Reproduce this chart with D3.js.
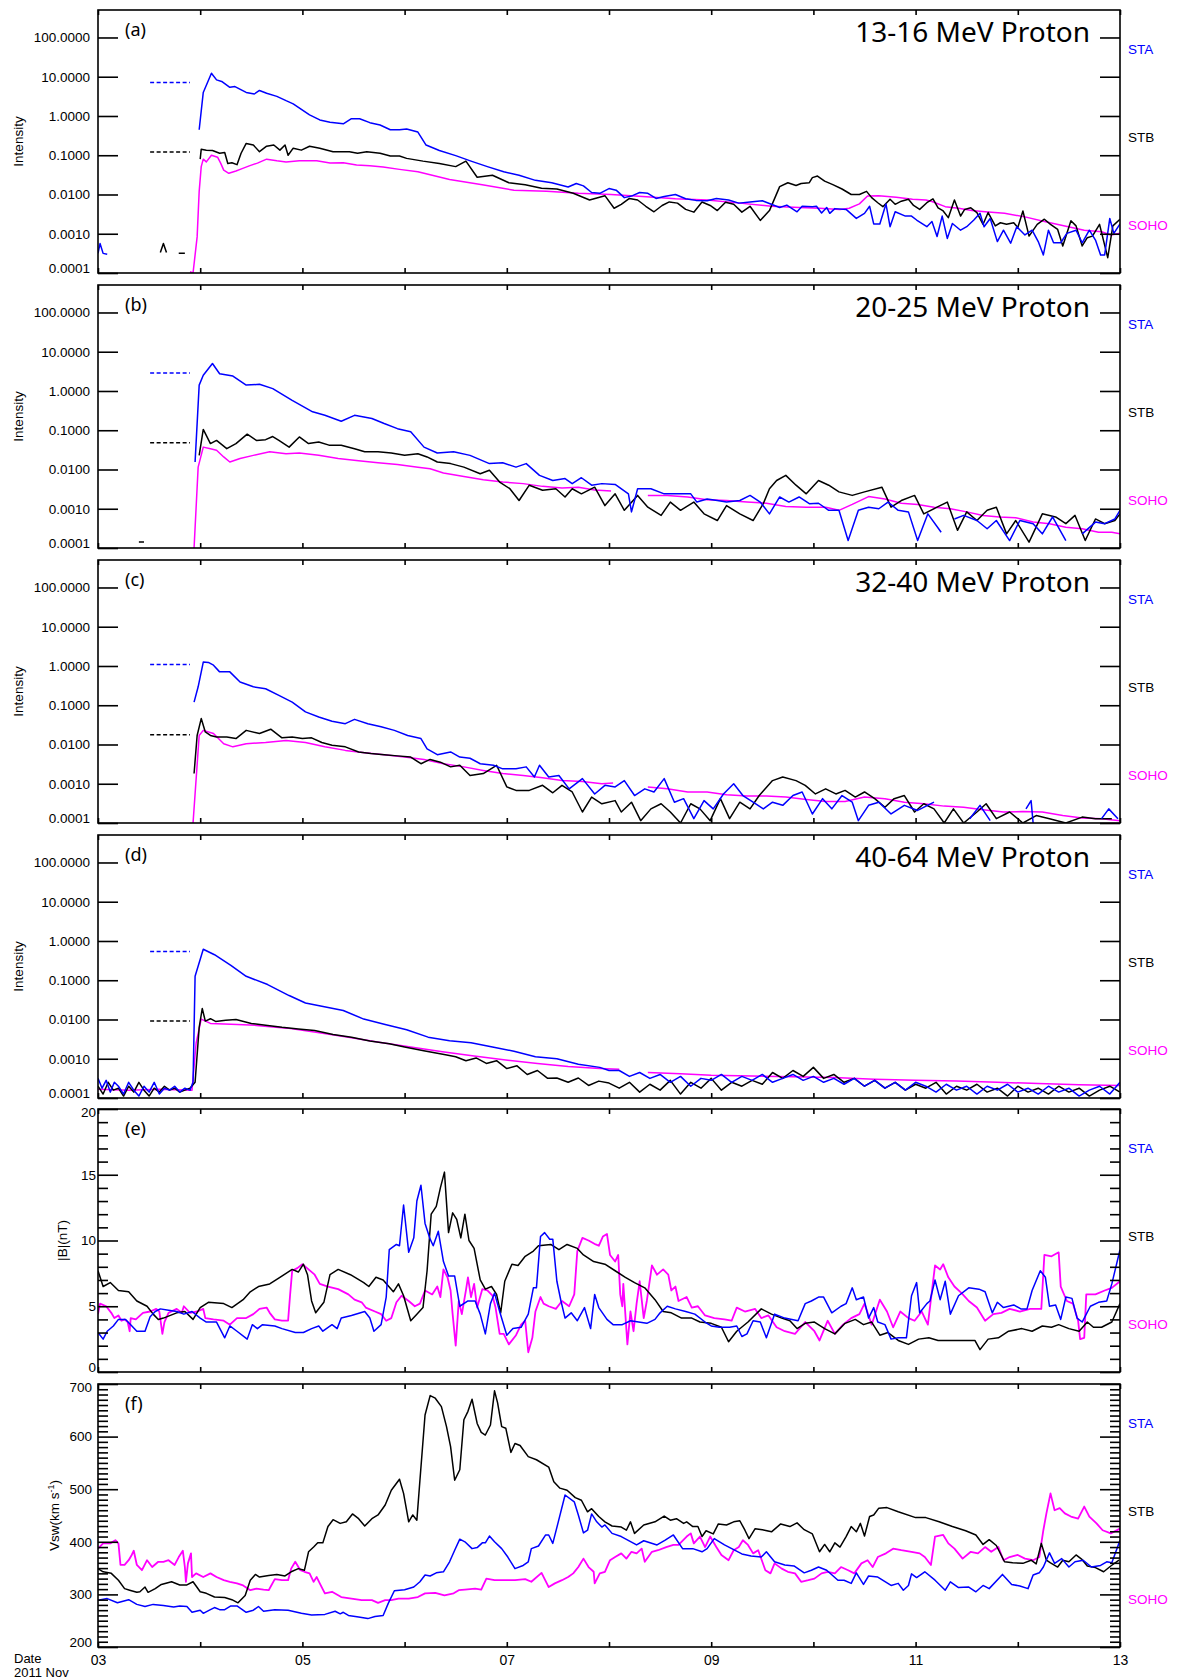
<!DOCTYPE html>
<html>
<head>
<meta charset="utf-8">
<script src="https://cdn.jsdelivr.net/npm/d3@7"></script>
<style>body{margin:0;background:#fff}</style>
</head>
<body>
<div id="chart"></div>
<script>
// ---- labels ----
const energyLabels = ["13-16 MeV Proton", "20-25 MeV Proton", "32-40 MeV Proton", "40-64 MeV Proton"];
const panelLetters = ["(a)", "(b)", "(c)", "(d)", "(e)", "(f)"];
const craft = ["STA", "STB", "SOHO"];
const logTicks = [100, 10, 1, 0.1, 0.01, 0.001, 0.0001];
const logTickLabels = ["100.0000", "10.0000", "1.0000", "0.1000", "0.0100", "0.0010", "0.0001"];
const bTicks = [0, 5, 10, 15, 20];
const vTicks = [200, 300, 400, 500, 600, 700];
const dayTicks = [3, 4, 5, 6, 7, 8, 9, 10, 11, 12, 13];
const dayLabels = { 3: "03", 5: "05", 7: "07", 9: "09", 11: "11", 13: "13" };

// pre-event background levels (dashed), log10 intensity, per energy channel
const bgDays = [3.51, 3.90];
const bgSta = [0.85, 0.46, 0.04, -0.27];
const bgStb = [-0.92, -1.32, -1.75, -2.04];

// ---- proton intensities: [day of Nov 2011, log10 intensity] ----
const staA = [[3.0,-3.5],[3.02,-3.25],[3.05,-3.5],[3.09,-3.52],[3.1,null],
 [3.99,-0.35],[4.03,0.6],[4.11,1.09],[4.16,0.92],[4.21,0.88],[4.29,0.73],[4.34,0.75],[4.45,0.6],[4.53,0.56],[4.58,0.65],[4.65,0.58],[4.75,0.5],[4.84,0.39],[4.91,0.31],[4.99,0.17],[5.07,0.03],[5.17,-0.1],[5.27,-0.16],[5.4,-0.2],[5.48,-0.07],[5.56,-0.07],[5.66,-0.17],[5.76,-0.23],[5.86,-0.35],[5.95,-0.35],[6.02,-0.33],[6.13,-0.41],[6.21,-0.74],[6.34,-0.88],[6.5,-1.01],[6.65,-1.15],[6.81,-1.29],[6.97,-1.42],[7.12,-1.51],[7.28,-1.64],[7.44,-1.7],[7.6,-1.81],[7.68,-1.72],[7.75,-1.78],[7.83,-1.95],[7.91,-1.97],[8.0,-1.85],[8.07,-1.89],[8.15,-2.08],[8.23,-2.03],[8.3,-1.95],[8.38,-1.97],[8.46,-2.1],[8.54,-2.05],[8.65,-2.0],[8.75,-2.11],[8.85,-2.15],[8.96,-2.16],[9.05,-2.1],[9.17,-2.14],[9.27,-2.22],[9.38,-2.19],[9.5,-2.16],[9.67,-2.33],[9.74,-2.27],[9.84,-2.44],[9.89,-2.3],[9.99,-2.31],[10.03,-2.3],[10.08,-2.47],[10.13,-2.33],[10.16,-2.48],[10.21,-2.36],[10.32,-2.38],[10.42,-2.61],[10.5,-2.48],[10.55,-2.3],[10.59,-2.75],[10.65,-2.75],[10.71,-2.24],[10.75,-2.82],[10.8,-2.44],[10.9,-2.55],[10.96,-2.55],[11.01,-2.65],[11.11,-2.82],[11.16,-2.69],[11.21,-3.07],[11.26,-2.55],[11.31,-3.12],[11.36,-2.74],[11.44,-2.91],[11.5,-2.82],[11.57,-2.65],[11.63,-2.48],[11.67,-2.82],[11.73,-2.61],[11.8,-3.2],[11.86,-2.91],[11.93,-3.24],[11.99,-2.82],[12.07,-3.03],[12.14,-2.91],[12.2,-3.2],[12.25,-3.54],[12.3,-2.91],[12.35,-3.23],[12.42,-3.23],[12.48,-2.99],[12.57,-2.91],[12.63,-3.23],[12.7,-2.91],[12.76,-3.16],[12.81,-3.54],[12.85,-3.54],[12.9,-2.61],[12.94,-2.99],[13.0,-2.75]];
const stbA = [[3.61,-3.48],[3.64,-3.25],[3.67,-3.48],[3.7,null],[3.79,-3.5],[3.85,-3.5],[3.9,null],
 [4.0,-1.1],[4.01,-0.85],[4.06,-0.87],[4.12,-0.88],[4.19,-0.95],[4.24,-0.93],[4.27,-1.21],[4.31,-1.19],[4.36,-1.24],[4.4,-0.95],[4.45,-0.7],[4.52,-0.74],[4.58,-0.91],[4.65,-0.77],[4.72,-0.74],[4.78,-0.87],[4.83,-0.74],[4.86,-1.0],[4.91,-0.82],[4.99,-0.87],[5.07,-0.77],[5.17,-0.82],[5.3,-0.91],[5.46,-0.91],[5.54,-0.95],[5.63,-0.91],[5.76,-0.95],[5.86,-1.02],[5.95,-1.02],[6.02,-1.08],[6.18,-1.15],[6.34,-1.21],[6.5,-1.29],[6.6,-1.15],[6.71,-1.56],[6.86,-1.51],[7.02,-1.7],[7.18,-1.75],[7.34,-1.84],[7.49,-1.86],[7.65,-1.97],[7.81,-2.14],[7.96,-2.03],[8.05,-2.35],[8.12,-2.25],[8.2,-2.1],[8.28,-2.14],[8.36,-2.3],[8.44,-2.44],[8.52,-2.28],[8.59,-2.19],[8.67,-2.22],[8.75,-2.38],[8.83,-2.45],[8.91,-2.19],[8.99,-2.28],[9.06,-2.41],[9.14,-2.2],[9.22,-2.25],[9.3,-2.45],[9.38,-2.3],[9.48,-2.66],[9.57,-2.41],[9.67,-1.8],[9.75,-1.7],[9.83,-1.77],[9.88,-1.72],[9.96,-1.7],[9.99,-1.57],[10.04,-1.53],[10.11,-1.66],[10.19,-1.75],[10.28,-1.86],[10.37,-2.0],[10.45,-2.0],[10.52,-1.92],[10.57,-2.08],[10.63,-2.21],[10.68,-2.31],[10.75,-2.12],[10.8,-2.25],[10.86,-2.17],[10.93,-2.12],[10.98,-2.28],[11.04,-2.38],[11.11,-2.21],[11.17,-2.11],[11.22,-2.34],[11.27,-2.42],[11.32,-2.59],[11.38,-2.14],[11.44,-2.55],[11.48,-2.38],[11.54,-2.34],[11.6,-2.46],[11.66,-2.76],[11.71,-2.46],[11.78,-2.8],[11.83,-2.72],[11.89,-2.76],[11.96,-2.72],[12.0,-2.84],[12.05,-2.42],[12.11,-3.06],[12.19,-2.76],[12.26,-2.63],[12.32,-2.76],[12.39,-2.89],[12.44,-3.31],[12.52,-2.67],[12.57,-2.8],[12.63,-3.31],[12.68,-3.1],[12.73,-3.06],[12.8,-2.76],[12.88,-3.61],[12.93,-2.8],[13.0,-2.63]];
const sohoA = [[3.9,-3.97],[3.93,-4.0],[3.97,-3.08],[3.99,-1.92],[4.01,-1.29],[4.03,-1.1],[4.06,-1.17],[4.11,-1.0],[4.17,-1.05],[4.2,-1.2],[4.23,-1.38],[4.28,-1.46],[4.35,-1.4],[4.41,-1.34],[4.48,-1.27],[4.56,-1.2],[4.65,-1.1],[4.75,-1.14],[4.84,-1.17],[4.97,-1.14],[5.14,-1.14],[5.27,-1.2],[5.4,-1.19],[5.53,-1.25],[5.66,-1.27],[5.79,-1.3],[5.95,-1.36],[6.13,-1.42],[6.44,-1.62],[6.76,-1.75],[7.07,-1.89],[7.39,-1.92],[7.7,-1.97],[8.02,-2.0],[8.33,-2.05],[8.65,-2.11],[8.96,-2.14],[9.28,-2.22],[9.59,-2.3],[9.86,-2.33],[10.06,-2.35],[10.26,-2.38],[10.35,-2.35],[10.45,-2.24],[10.53,-2.04],[10.64,-2.03],[10.81,-2.07],[10.97,-2.12],[11.1,-2.14],[11.16,-2.18],[11.29,-2.31],[11.42,-2.35],[11.55,-2.41],[11.68,-2.44],[11.87,-2.48],[12.07,-2.57],[12.26,-2.69],[12.46,-2.8],[12.65,-2.91],[12.82,-2.95],[12.91,-3.03],[13.0,-2.99]];

const staB = [[3.95,-1.81],[3.99,0.15],[4.03,0.4],[4.12,0.7],[4.19,0.44],[4.32,0.38],[4.45,0.15],[4.58,0.17],[4.71,0.06],[4.9,-0.24],[5.1,-0.53],[5.22,-0.62],[5.38,-0.77],[5.51,-0.62],[5.68,-0.7],[5.8,-0.83],[5.93,-0.96],[6.06,-1.04],[6.19,-1.43],[6.32,-1.58],[6.48,-1.55],[6.64,-1.64],[6.83,-1.85],[6.96,-1.83],[7.09,-1.94],[7.19,-1.85],[7.32,-2.15],[7.45,-2.28],[7.57,-2.23],[7.64,-2.36],[7.73,-2.21],[7.83,-2.4],[7.93,-2.36],[8.06,-2.38],[8.19,-2.62],[8.22,-3.08],[8.28,-2.49],[8.41,-2.49],[8.54,-2.62],[8.67,-2.62],[8.8,-2.62],[8.86,-2.83],[8.96,-2.75],[9.06,-2.79],[9.15,-2.83],[9.28,-2.79],[9.38,-2.66],[9.48,-2.83],[9.57,-3.13],[9.67,-2.7],[9.76,-2.83],[9.86,-2.7],[9.96,-2.87],[10.05,-2.86],[10.15,-3.04],[10.25,-3.04],[10.34,-3.81],[10.44,-3.04],[10.54,-2.96],[10.64,-3.0],[10.73,-2.83],[10.83,-3.04],[10.93,-3.08],[11.02,-3.81],[11.12,-3.13],[11.25,-3.6],[11.3,null],[11.38,-3.26],[11.47,-3.17],[11.6,-3.3],[11.7,-3.51],[11.79,-3.3],[11.92,-3.81],[12.02,-3.3],[12.15,-3.38],[12.24,-3.64],[12.34,-3.21],[12.47,-3.81],[12.55,null],[12.63,-3.64],[12.76,-3.34],[12.85,-3.38],[12.95,-3.26],[13.0,-3.04]];
const stbB = [[3.4,-3.85],[3.45,-3.85],[3.5,null],[3.99,-1.64],[4.03,-0.98],[4.1,-1.34],[4.16,-1.26],[4.26,-1.47],[4.35,-1.34],[4.46,-1.1],[4.55,-1.26],[4.64,-1.24],[4.71,-1.16],[4.77,-1.26],[4.87,-1.43],[4.97,-1.17],[5.06,-1.34],[5.16,-1.3],[5.26,-1.38],[5.38,-1.38],[5.51,-1.47],[5.61,-1.55],[5.74,-1.55],[5.87,-1.58],[6.0,-1.64],[6.13,-1.6],[6.22,-1.68],[6.32,-1.81],[6.45,-1.85],[6.58,-1.94],[6.74,-2.11],[6.83,-2.02],[6.93,-2.32],[7.03,-2.49],[7.12,-2.79],[7.22,-2.4],[7.35,-2.53],[7.48,-2.49],[7.57,-2.7],[7.64,-2.49],[7.73,-2.62],[7.86,-2.45],[7.96,-2.92],[8.06,-2.62],[8.15,-3.04],[8.28,-2.66],[8.38,-2.96],[8.51,-3.17],[8.6,-2.83],[8.7,-3.04],[8.83,-2.83],[8.93,-3.13],[9.06,-3.3],[9.15,-2.92],[9.28,-3.13],[9.41,-3.3],[9.51,-2.87],[9.57,-2.49],[9.64,-2.28],[9.73,-2.15],[9.83,-2.4],[9.93,-2.62],[10.05,-2.28],[10.15,-2.4],[10.25,-2.57],[10.38,-2.66],[10.5,-2.57],[10.67,-2.45],[10.76,-2.96],[10.86,-2.79],[10.99,-2.66],[11.08,-3.13],[11.21,-2.96],[11.31,-2.83],[11.41,-3.55],[11.5,-3.08],[11.6,-3.3],[11.7,-3.04],[11.79,-2.96],[11.89,-3.64],[11.98,-3.3],[12.11,-3.85],[12.24,-3.13],[12.37,-3.21],[12.47,-3.38],[12.56,-3.17],[12.66,-3.81],[12.76,-3.26],[12.85,-3.38],[12.95,-3.3],[13.0,-3.13]];
const sohoB = [[3.94,-4.0],[3.98,-1.94],[4.03,-1.43],[4.1,-1.47],[4.16,-1.51],[4.23,-1.68],[4.29,-1.81],[4.39,-1.72],[4.52,-1.64],[4.68,-1.55],[4.84,-1.6],[4.97,-1.58],[5.16,-1.64],[5.35,-1.72],[5.55,-1.78],[5.74,-1.83],[5.93,-1.87],[6.13,-1.94],[6.25,-1.98],[6.38,-2.09],[6.58,-2.18],[6.77,-2.26],[6.96,-2.32],[7.16,-2.36],[7.35,-2.43],[7.54,-2.47],[7.7,-2.45],[7.86,-2.52],[8.02,-2.55],[8.2,null],[8.38,-2.66],[8.57,-2.66],[8.77,-2.7],[8.96,-2.77],[9.15,-2.79],[9.35,-2.83],[9.54,-2.86],[9.73,-2.94],[9.93,-2.96],[10.12,-2.96],[10.25,-3.04],[10.38,-2.89],[10.54,-2.69],[10.7,-2.75],[10.86,-2.86],[11.02,-2.89],[11.18,-2.96],[11.34,-3.0],[11.5,-3.08],[11.66,-3.17],[11.82,-3.21],[11.98,-3.23],[12.15,-3.34],[12.31,-3.38],[12.47,-3.47],[12.63,-3.51],[12.79,-3.6],[12.92,-3.6],[13.0,-3.64]];

const staC = [[3.94,-0.92],[3.98,-0.53],[4.03,0.1],[4.08,0.09],[4.13,0.02],[4.19,-0.15],[4.29,-0.15],[4.39,-0.41],[4.52,-0.53],[4.64,-0.58],[4.77,-0.75],[4.9,-0.92],[5.03,-1.17],[5.16,-1.3],[5.29,-1.41],[5.42,-1.47],[5.51,-1.36],[5.64,-1.47],[5.77,-1.55],[5.9,-1.64],[6.03,-1.77],[6.16,-1.85],[6.22,-2.11],[6.32,-2.26],[6.45,-2.19],[6.54,-2.32],[6.64,-2.35],[6.74,-2.49],[6.87,-2.53],[6.96,-2.62],[7.09,-2.62],[7.19,-2.57],[7.27,-2.83],[7.32,-2.53],[7.41,-2.83],[7.51,-2.79],[7.61,-3.13],[7.74,-2.87],[7.86,-3.26],[7.96,-3.04],[8.06,-3.08],[8.15,-2.92],[8.25,-3.3],[8.35,-3.13],[8.44,-3.21],[8.54,-2.87],[8.64,-3.47],[8.73,-3.38],[8.83,-3.89],[8.93,-3.43],[9.02,-3.64],[9.12,-3.26],[9.22,-3.0],[9.31,-3.3],[9.41,-3.47],[9.51,-3.64],[9.6,-3.47],[9.7,-3.55],[9.8,-3.3],[9.89,-3.21],[9.99,-3.77],[10.09,-3.38],[10.18,-3.64],[10.28,-3.3],[10.38,-3.47],[10.44,-3.94],[10.54,-3.55],[10.64,-3.47],[10.76,-3.77],[10.89,-3.55],[11.02,-3.68],[11.18,-3.47],[11.25,null],[11.53,-3.89],[11.63,-3.55],[11.73,-3.94],[11.8,null],[12.08,-3.64],[12.13,-3.43],[12.15,-4.0],[12.2,null],[12.82,-3.89],[12.89,-3.64],[12.98,-3.89]];
const stbC = [[3.94,-2.74],[3.97,-1.77],[4.01,-1.34],[4.05,-1.68],[4.1,-1.77],[4.16,-1.81],[4.26,-1.81],[4.35,-1.85],[4.45,-1.64],[4.58,-1.72],[4.69,-1.61],[4.8,-1.83],[4.9,-1.81],[5.0,-1.85],[5.09,-1.83],[5.19,-1.95],[5.29,-2.02],[5.42,-2.06],[5.55,-2.19],[5.67,-2.23],[5.8,-2.26],[5.93,-2.29],[6.06,-2.32],[6.16,-2.49],[6.25,-2.38],[6.35,-2.45],[6.45,-2.57],[6.54,-2.53],[6.64,-2.79],[6.77,-2.74],[6.9,-2.53],[7.0,-3.08],[7.09,-3.17],[7.22,-3.17],[7.35,-3.04],[7.45,-3.23],[7.54,-3.04],[7.64,-3.21],[7.74,-3.72],[7.83,-3.34],[7.93,-3.51],[8.06,-3.43],[8.12,-3.72],[8.22,-3.47],[8.31,-3.94],[8.41,-3.64],[8.51,-3.51],[8.6,-3.72],[8.7,-4.0],[8.8,-3.51],[8.89,-3.64],[8.99,-3.94],[9.09,-3.38],[9.18,-3.89],[9.28,-3.47],[9.38,-3.64],[9.47,-3.3],[9.6,-2.92],[9.7,-2.83],[9.83,-2.92],[9.92,-3.04],[10.02,-3.26],[10.12,-3.13],[10.22,-3.26],[10.31,-3.17],[10.41,-3.34],[10.5,-3.21],[10.6,-3.38],[10.7,-3.6],[10.79,-3.38],[10.89,-3.3],[10.99,-3.72],[11.08,-3.51],[11.18,-3.64],[11.28,-4.0],[11.37,-3.64],[11.47,-4.0],[11.6,-3.72],[11.69,-3.51],[11.79,-3.89],[11.92,-3.72],[12.05,-4.0],[12.18,-3.81],[12.31,-3.89],[12.47,-4.0],[12.63,-3.85],[12.76,-3.89],[12.92,-3.89]];
const sohoC = [[3.93,-4.0],[3.99,-1.77],[4.03,-1.64],[4.13,-1.72],[4.23,-1.98],[4.32,-2.06],[4.45,-1.98],[4.64,-1.95],[4.84,-1.9],[5.03,-1.95],[5.22,-2.06],[5.42,-2.15],[5.61,-2.21],[5.8,-2.26],[6.0,-2.32],[6.19,-2.38],[6.38,-2.49],[6.58,-2.57],[6.77,-2.66],[6.96,-2.74],[7.16,-2.79],[7.35,-2.85],[7.54,-2.92],[7.74,-2.94],[7.93,-3.0],[8.04,-2.98],[8.2,null],[8.38,-3.08],[8.57,-3.13],[8.77,-3.21],[8.96,-3.21],[9.15,-3.28],[9.35,-3.31],[9.54,-3.31],[9.73,-3.34],[9.93,-3.4],[10.12,-3.45],[10.31,-3.45],[10.5,-3.34],[10.7,-3.38],[10.89,-3.47],[11.08,-3.51],[11.28,-3.57],[11.47,-3.6],[11.66,-3.66],[11.86,-3.72],[12.05,-3.71],[12.24,-3.72],[12.44,-3.81],[12.63,-3.87],[12.82,-3.89],[13.0,-3.94]];

const staD = [[3.0,-3.5],[3.04,-3.75],[3.08,-3.55],[3.12,-3.85],[3.16,-3.6],[3.2,-3.7],[3.25,-3.9],[3.3,-3.6],[3.35,-3.8],[3.4,-3.95],[3.45,-3.7],[3.5,-3.85],[3.55,-3.6],[3.6,-3.9],[3.65,-3.75],[3.7,-3.8],[3.75,-3.7],[3.8,-3.85],[3.85,-3.75],[3.9,-3.8],[3.93,-3.6],[3.95,-0.9],[4.03,-0.21],[4.14,-0.35],[4.3,-0.62],[4.45,-0.9],[4.66,-1.11],[4.87,-1.39],[5.03,-1.58],[5.19,-1.66],[5.4,-1.77],[5.6,-1.99],[5.81,-2.13],[6.02,-2.26],[6.23,-2.45],[6.44,-2.54],[6.65,-2.59],[6.86,-2.7],[7.07,-2.81],[7.28,-2.95],[7.49,-3.0],[7.7,-3.14],[7.91,-3.22],[8.0,-3.3],[8.1,-3.3],[8.2,-3.45],[8.3,-3.35],[8.4,-3.5],[8.5,-3.4],[8.6,-3.6],[8.7,-3.45],[8.8,-3.7],[8.9,-3.5],[9.0,-3.55],[9.1,-3.4],[9.2,-3.6],[9.3,-3.45],[9.4,-3.55],[9.5,-3.4],[9.6,-3.6],[9.7,-3.5],[9.8,-3.4],[9.9,-3.55],[10.0,-3.45],[10.1,-3.6],[10.2,-3.5],[10.3,-3.65],[10.4,-3.5],[10.5,-3.7],[10.6,-3.55],[10.7,-3.75],[10.8,-3.6],[10.9,-3.8],[11.0,-3.6],[11.1,-3.7],[11.2,-3.85],[11.3,-3.65],[11.4,-3.8],[11.5,-3.7],[11.6,-3.9],[11.7,-3.7],[11.8,-3.8],[11.9,-3.65],[12.0,-3.85],[12.1,-3.75],[12.2,-3.9],[12.3,-3.7],[12.4,-3.85],[12.5,-3.75],[12.6,-3.95],[12.7,-3.8],[12.8,-3.7],[12.9,-3.9],[13.0,-3.6]];
const stbD = [[3.0,-3.7],[3.05,-3.9],[3.1,-3.6],[3.15,-3.8],[3.2,-3.75],[3.25,-3.95],[3.3,-3.7],[3.35,-3.85],[3.4,-3.6],[3.45,-3.8],[3.5,-3.95],[3.55,-3.75],[3.6,-3.85],[3.65,-3.7],[3.7,-3.8],[3.75,-3.75],[3.8,-3.85],[3.85,-3.8],[3.9,-3.75],[3.95,-3.6],[3.99,-2.2],[4.02,-1.72],[4.05,-2.04],[4.1,-1.98],[4.15,-2.05],[4.25,-2.02],[4.35,-2.0],[4.5,-2.1],[4.66,-2.15],[4.8,-2.2],[4.96,-2.24],[5.12,-2.28],[5.3,-2.38],[5.48,-2.45],[5.66,-2.55],[5.85,-2.62],[6.0,-2.7],[6.2,-2.8],[6.4,-2.9],[6.5,-2.95],[6.6,-3.05],[6.7,-2.98],[6.8,-3.12],[6.9,-3.05],[7.0,-3.25],[7.1,-3.18],[7.2,-3.4],[7.3,-3.3],[7.4,-3.5],[7.49,-3.49],[7.6,-3.6],[7.7,-3.49],[7.8,-3.68],[7.9,-3.57],[8.0,-3.62],[8.1,-3.75],[8.2,-3.6],[8.3,-3.85],[8.4,-3.65],[8.5,-3.8],[8.6,-3.55],[8.7,-3.9],[8.8,-3.6],[8.9,-3.75],[9.0,-3.5],[9.1,-3.8],[9.2,-3.6],[9.3,-3.7],[9.4,-3.55],[9.5,-3.65],[9.6,-3.35],[9.7,-3.5],[9.8,-3.3],[9.9,-3.45],[10.0,-3.22],[10.1,-3.5],[10.2,-3.4],[10.3,-3.6],[10.4,-3.5],[10.5,-3.7],[10.6,-3.55],[10.7,-3.75],[10.8,-3.6],[10.9,-3.8],[11.0,-3.65],[11.1,-3.75],[11.2,-3.6],[11.3,-3.9],[11.4,-3.7],[11.5,-3.8],[11.6,-3.65],[11.7,-3.85],[11.8,-3.75],[11.9,-3.95],[12.0,-3.7],[12.1,-3.85],[12.2,-3.75],[12.3,-3.9],[12.4,-3.7],[12.5,-3.85],[12.6,-3.75],[12.7,-3.95],[12.8,-3.8],[12.9,-3.7],[13.0,-3.85]];
const sohoD = [[3.0,-3.78],[3.3,-3.8],[3.6,-3.78],[3.92,-3.8],[3.96,-2.6],[4.01,-1.99],[4.1,-2.1],[4.3,-2.12],[4.55,-2.15],[4.85,-2.22],[5.15,-2.33],[5.45,-2.45],[5.75,-2.58],[6.06,-2.7],[6.37,-2.82],[6.68,-2.93],[6.99,-3.03],[7.3,-3.12],[7.6,-3.2],[7.91,-3.25],[8.1,-3.27],[8.2,null],[8.38,-3.35],[8.7,-3.38],[9.0,-3.42],[9.4,-3.44],[9.8,-3.46],[10.2,-3.48],[10.6,-3.52],[11.0,-3.55],[11.4,-3.57],[11.8,-3.6],[12.2,-3.63],[12.6,-3.66],[13.0,-3.68]];

// ---- |B| in nT: [day, nT] ----
const staE = [[3.0,3.0],[3.05,2.5],[3.09,3.1],[3.15,3.5],[3.2,4.0],[3.27,4.0],[3.32,3.6],[3.38,3.1],[3.46,3.1],[3.51,4.2],[3.56,4.6],[3.61,4.8],[3.69,4.7],[3.77,4.6],[3.84,4.4],[3.92,4.6],[4.0,4.1],[4.06,3.8],[4.16,3.8],[4.24,2.6],[4.29,3.5],[4.36,3.1],[4.46,2.5],[4.51,3.6],[4.56,3.3],[4.61,3.6],[4.73,3.5],[4.8,3.3],[4.93,3.0],[5.01,3.0],[5.09,3.3],[5.16,3.5],[5.2,3.1],[5.29,3.6],[5.34,3.3],[5.38,4.1],[5.48,4.3],[5.61,4.6],[5.66,4.1],[5.7,3.1],[5.77,3.6],[5.82,5.7],[5.85,9.3],[5.92,9.7],[5.95,9.6],[5.99,12.7],[6.04,9.1],[6.09,10.2],[6.12,13.0],[6.16,14.2],[6.2,11.3],[6.25,10.1],[6.28,9.6],[6.33,10.7],[6.38,8.4],[6.43,7.3],[6.49,7.3],[6.54,5.0],[6.62,5.4],[6.69,5.4],[6.74,4.4],[6.79,2.9],[6.84,5.2],[6.88,6.0],[6.93,4.6],[7.0,2.8],[7.06,3.3],[7.14,3.4],[7.21,4.4],[7.26,6.4],[7.29,6.4],[7.33,10.3],[7.37,10.6],[7.42,10.1],[7.45,10.1],[7.49,6.9],[7.53,5.4],[7.57,4.1],[7.63,4.5],[7.69,3.9],[7.76,4.9],[7.82,3.3],[7.86,5.9],[7.9,4.9],[7.98,4.0],[8.04,3.6],[8.13,3.6],[8.21,3.9],[8.29,3.8],[8.37,3.7],[8.45,4.0],[8.5,4.5],[8.57,5.0],[8.65,4.8],[8.75,4.6],[8.84,4.4],[8.94,3.8],[9.0,3.5],[9.08,3.4],[9.18,3.4],[9.25,3.5],[9.3,2.7],[9.35,2.9],[9.41,3.9],[9.48,3.8],[9.54,2.6],[9.62,4.4],[9.72,4.1],[9.79,4.0],[9.85,3.9],[9.92,5.2],[9.98,5.4],[10.05,5.7],[10.1,5.7],[10.18,4.5],[10.27,5.0],[10.32,5.2],[10.38,6.4],[10.42,5.5],[10.49,5.7],[10.54,4.1],[10.59,4.9],[10.63,3.8],[10.7,3.6],[10.76,2.5],[10.83,2.6],[10.91,2.6],[10.96,5.8],[11.01,6.8],[11.04,4.5],[11.11,5.2],[11.14,5.4],[11.19,7.0],[11.24,5.5],[11.29,6.9],[11.34,4.4],[11.42,5.8],[11.52,6.4],[11.62,6.3],[11.68,6.1],[11.75,4.5],[11.8,5.3],[11.86,4.9],[11.96,5.1],[12.03,4.8],[12.09,4.8],[12.14,6.2],[12.22,7.7],[12.27,7.2],[12.31,5.0],[12.37,5.1],[12.42,4.0],[12.47,5.7],[12.53,5.6],[12.58,4.1],[12.63,3.8],[12.71,5.0],[12.79,5.3],[12.87,5.4],[12.92,6.7],[13.0,9.3]];
const stbE = [[3.0,7.7],[3.05,6.5],[3.12,6.8],[3.2,6.2],[3.3,6.1],[3.38,5.4],[3.48,5.0],[3.54,4.4],[3.59,4.0],[3.64,4.1],[3.77,4.5],[3.85,4.6],[3.93,4.0],[4.0,4.9],[4.08,5.3],[4.23,5.2],[4.31,4.9],[4.42,5.5],[4.49,6.1],[4.57,6.5],[4.68,6.7],[4.78,7.2],[4.9,7.8],[4.96,7.6],[5.01,8.2],[5.05,7.4],[5.09,5.4],[5.13,4.5],[5.21,5.3],[5.27,7.4],[5.35,7.8],[5.47,7.4],[5.6,6.8],[5.65,6.5],[5.72,7.2],[5.79,7.0],[5.89,6.1],[5.94,6.7],[5.99,5.8],[6.06,3.9],[6.12,4.4],[6.18,4.9],[6.22,7.7],[6.26,12.0],[6.31,12.6],[6.35,14.0],[6.39,15.2],[6.43,10.6],[6.47,12.1],[6.51,11.6],[6.55,10.2],[6.59,12.0],[6.63,10.0],[6.68,9.4],[6.74,7.0],[6.79,6.3],[6.85,6.5],[6.9,5.9],[6.94,4.5],[6.98,6.9],[7.05,8.2],[7.11,8.1],[7.18,8.8],[7.26,9.2],[7.31,9.6],[7.43,9.7],[7.51,9.3],[7.59,9.7],[7.69,9.4],[7.75,8.9],[7.85,8.4],[7.96,8.2],[8.06,7.7],[8.16,7.2],[8.25,6.8],[8.35,6.4],[8.45,5.5],[8.53,4.6],[8.61,4.5],[8.71,4.1],[8.81,4.1],[8.89,3.8],[9.0,3.7],[9.1,3.4],[9.17,2.3],[9.25,3.1],[9.36,3.8],[9.49,4.8],[9.59,4.4],[9.69,4.1],[9.77,3.9],[9.84,3.3],[9.92,3.7],[10.01,3.8],[10.11,3.3],[10.21,2.9],[10.31,3.7],[10.41,4.0],[10.49,3.6],[10.57,3.8],[10.65,2.8],[10.73,3.0],[10.83,2.4],[10.93,2.1],[11.03,2.5],[11.13,2.6],[11.22,2.4],[11.39,2.4],[11.58,2.4],[11.63,1.7],[11.71,2.5],[11.81,2.6],[11.91,3.1],[12.04,3.3],[12.14,3.1],[12.24,3.5],[12.33,3.4],[12.4,3.6],[12.5,3.3],[12.6,3.1],[12.68,3.8],[12.74,3.4],[12.82,3.4],[12.92,3.8],[13.0,5.2]];
const sohoE = [[3.0,4.4],[3.02,5.2],[3.08,5.0],[3.13,4.5],[3.16,4.1],[3.2,4.3],[3.23,3.9],[3.26,4.0],[3.29,3.8],[3.31,3.1],[3.32,4.1],[3.37,4.0],[3.44,4.5],[3.51,4.6],[3.57,4.8],[3.6,4.6],[3.63,2.9],[3.65,3.8],[3.69,4.5],[3.77,4.8],[3.82,4.5],[3.84,5.0],[3.9,4.5],[3.97,4.6],[4.03,4.8],[4.05,4.1],[4.13,4.0],[4.23,3.9],[4.29,3.6],[4.36,4.1],[4.45,4.1],[4.52,4.4],[4.58,4.8],[4.65,4.9],[4.68,4.5],[4.73,4.0],[4.8,3.9],[4.86,3.9],[4.88,5.9],[4.9,7.7],[4.95,7.9],[5.0,8.2],[5.06,7.8],[5.12,7.4],[5.17,6.7],[5.25,6.5],[5.35,6.3],[5.45,5.9],[5.51,5.5],[5.58,5.3],[5.62,4.9],[5.71,4.6],[5.77,4.4],[5.82,3.9],[5.87,4.1],[5.92,5.3],[5.97,5.8],[6.04,5.4],[6.1,5.0],[6.15,5.2],[6.2,6.2],[6.27,5.9],[6.32,6.5],[6.35,5.7],[6.38,7.8],[6.42,7.2],[6.45,6.2],[6.47,4.4],[6.5,2.0],[6.53,5.4],[6.56,4.4],[6.6,6.2],[6.62,7.2],[6.65,5.7],[6.68,6.7],[6.71,4.9],[6.76,6.3],[6.81,6.2],[6.86,5.8],[6.89,4.9],[6.93,2.9],[6.97,2.9],[7.02,2.1],[7.09,2.8],[7.14,3.6],[7.18,3.9],[7.21,1.5],[7.25,2.6],[7.28,4.6],[7.33,5.7],[7.36,5.2],[7.41,5.0],[7.48,4.8],[7.54,5.4],[7.61,5.0],[7.66,5.9],[7.69,9.2],[7.74,10.2],[7.8,10.0],[7.87,9.7],[7.9,9.6],[7.94,10.3],[7.98,10.5],[8.01,8.9],[8.06,8.4],[8.09,8.9],[8.11,5.9],[8.13,5.0],[8.14,6.7],[8.18,2.1],[8.21,4.6],[8.24,3.1],[8.27,5.2],[8.3,6.9],[8.34,4.1],[8.37,5.4],[8.42,8.1],[8.47,7.4],[8.53,7.8],[8.58,7.4],[8.61,6.2],[8.65,6.5],[8.68,5.4],[8.76,5.7],[8.81,4.9],[8.87,5.0],[8.94,4.3],[9.03,4.1],[9.13,4.0],[9.2,3.9],[9.25,4.9],[9.33,4.6],[9.43,4.8],[9.49,4.1],[9.56,4.3],[9.64,3.4],[9.72,3.1],[9.82,2.9],[9.92,3.8],[10.01,3.1],[10.06,2.4],[10.14,3.9],[10.21,2.9],[10.29,3.6],[10.37,4.1],[10.45,4.4],[10.5,5.2],[10.57,3.6],[10.65,5.5],[10.72,4.6],[10.78,3.4],[10.85,4.6],[10.93,4.1],[10.99,3.9],[11.06,4.6],[11.12,3.6],[11.19,8.1],[11.24,7.8],[11.27,8.2],[11.32,7.2],[11.38,6.5],[11.45,6.0],[11.52,5.4],[11.6,4.9],[11.68,3.9],[11.76,4.4],[11.84,4.5],[11.92,4.8],[12.02,4.6],[12.12,4.8],[12.23,4.8],[12.26,8.9],[12.33,8.8],[12.4,9.1],[12.42,6.5],[12.48,5.4],[12.54,5.2],[12.59,3.9],[12.61,2.5],[12.65,2.6],[12.67,5.9],[12.76,5.9],[12.85,6.2],[12.92,6.4],[13.0,6.9]];

// ---- solar wind speed in km/s: [day, km/s] ----
const staF = [[3.0,289],[3.09,292],[3.19,284],[3.3,290],[3.38,281],[3.46,277],[3.54,281],[3.64,279],[3.74,276],[3.8,278],[3.87,277],[3.92,266],[4.0,270],[4.03,264],[4.1,271],[4.14,275],[4.19,271],[4.24,271],[4.3,278],[4.36,278],[4.45,266],[4.52,270],[4.57,277],[4.62,268],[4.73,271],[4.86,270],[4.99,264],[5.09,261],[5.22,262],[5.32,268],[5.37,263],[5.4,266],[5.45,260],[5.55,257],[5.64,254],[5.71,258],[5.79,260],[5.84,283],[5.9,307],[6.0,309],[6.09,314],[6.15,324],[6.2,337],[6.25,335],[6.31,341],[6.38,343],[6.44,362],[6.49,384],[6.54,405],[6.59,400],[6.66,387],[6.71,389],[6.76,398],[6.79,398],[6.83,411],[6.88,400],[6.95,387],[7.01,371],[7.08,349],[7.16,355],[7.21,362],[7.24,387],[7.31,392],[7.38,413],[7.41,413],[7.45,397],[7.5,435],[7.57,489],[7.66,476],[7.7,451],[7.75,417],[7.79,422],[7.83,453],[7.88,438],[7.93,428],[7.96,432],[8.03,416],[8.12,410],[8.27,394],[8.34,402],[8.47,394],[8.55,403],[8.63,413],[8.72,387],[8.82,387],[8.91,381],[8.96,387],[9.03,406],[9.13,394],[9.22,385],[9.3,377],[9.39,373],[9.49,371],[9.54,381],[9.62,362],[9.72,356],[9.81,354],[9.91,341],[9.98,346],[10.05,352],[10.13,346],[10.24,327],[10.3,327],[10.37,321],[10.42,341],[10.49,319],[10.54,335],[10.63,333],[10.76,317],[10.83,321],[10.88,308],[10.93,317],[10.96,339],[11.01,332],[11.09,343],[11.19,327],[11.29,308],[11.34,324],[11.42,313],[11.52,314],[11.59,305],[11.66,317],[11.72,311],[11.85,338],[11.94,319],[12.02,316],[12.1,311],[12.15,337],[12.21,341],[12.25,352],[12.31,379],[12.36,359],[12.43,368],[12.5,352],[12.56,362],[12.64,365],[12.72,352],[12.81,355],[12.87,362],[12.92,360],[13.0,403]];
const stbF = [[3.0,349],[3.05,343],[3.13,340],[3.2,327],[3.26,311],[3.31,308],[3.38,304],[3.41,305],[3.46,314],[3.49,304],[3.56,311],[3.62,319],[3.72,324],[3.8,318],[3.87,318],[3.93,324],[4.0,305],[4.06,302],[4.14,295],[4.24,294],[4.31,290],[4.37,284],[4.44,298],[4.49,327],[4.54,338],[4.58,333],[4.67,336],[4.75,338],[4.83,335],[4.89,343],[4.96,349],[5.02,346],[5.06,381],[5.11,390],[5.15,398],[5.2,398],[5.25,429],[5.3,442],[5.37,435],[5.43,438],[5.49,453],[5.55,444],[5.61,430],[5.68,444],[5.74,451],[5.81,470],[5.87,498],[5.95,519],[5.99,492],[6.04,438],[6.08,451],[6.12,441],[6.15,517],[6.2,641],[6.25,678],[6.3,673],[6.36,657],[6.41,619],[6.45,581],[6.49,517],[6.54,537],[6.58,632],[6.62,648],[6.66,671],[6.71,625],[6.75,608],[6.79,603],[6.84,622],[6.88,687],[6.91,664],[6.95,619],[6.99,616],[7.04,570],[7.08,587],[7.13,583],[7.21,562],[7.29,556],[7.41,542],[7.46,514],[7.52,502],[7.59,498],[7.67,484],[7.73,479],[7.79,457],[7.83,463],[7.9,448],[7.96,438],[8.03,430],[8.12,428],[8.17,422],[8.21,438],[8.25,416],[8.34,432],[8.45,438],[8.54,449],[8.6,441],[8.66,444],[8.73,435],[8.76,438],[8.82,429],[8.87,429],[8.91,410],[8.95,421],[9.02,415],[9.07,434],[9.15,432],[9.22,438],[9.28,440],[9.33,422],[9.37,406],[9.43,425],[9.5,423],[9.59,419],[9.68,434],[9.77,429],[9.84,436],[9.91,423],[9.99,415],[10.06,381],[10.11,395],[10.16,381],[10.21,398],[10.26,390],[10.32,410],[10.37,429],[10.42,419],[10.46,435],[10.5,411],[10.55,448],[10.59,451],[10.64,464],[10.72,465],[10.83,457],[11.0,446],[11.1,446],[11.23,438],[11.36,429],[11.49,421],[11.59,413],[11.66,395],[11.72,404],[11.79,393],[11.87,362],[11.95,360],[12.05,359],[12.13,365],[12.18,358],[12.23,397],[12.28,365],[12.32,360],[12.39,352],[12.44,365],[12.5,362],[12.57,375],[12.63,366],[12.68,354],[12.76,351],[12.84,343],[12.91,354],[12.99,365]];
const sohoF = [[3.0,387],[3.05,397],[3.12,397],[3.17,403],[3.2,397],[3.22,356],[3.26,356],[3.3,365],[3.33,375],[3.35,383],[3.38,356],[3.43,346],[3.48,365],[3.53,352],[3.59,362],[3.64,362],[3.69,365],[3.75,356],[3.79,371],[3.83,383],[3.85,352],[3.86,324],[3.88,359],[3.91,378],[3.92,333],[3.96,340],[4.03,333],[4.1,340],[4.16,333],[4.23,327],[4.29,324],[4.36,321],[4.42,317],[4.49,308],[4.55,311],[4.62,309],[4.67,308],[4.73,329],[4.8,327],[4.86,327],[4.89,349],[4.93,362],[4.98,346],[5.02,343],[5.07,340],[5.11,324],[5.14,333],[5.17,321],[5.22,302],[5.29,305],[5.38,295],[5.48,292],[5.58,289],[5.68,289],[5.74,284],[5.81,289],[5.87,289],[5.94,292],[6.04,292],[6.13,295],[6.2,302],[6.3,303],[6.39,298],[6.48,302],[6.53,308],[6.59,309],[6.69,311],[6.75,309],[6.8,330],[6.88,327],[6.98,327],[7.08,327],[7.18,329],[7.24,324],[7.34,341],[7.41,314],[7.47,321],[7.54,327],[7.6,333],[7.65,340],[7.7,352],[7.75,368],[7.8,352],[7.85,343],[7.86,321],[7.91,340],[7.96,343],[8.01,365],[8.06,371],[8.12,378],[8.17,368],[8.22,381],[8.27,378],[8.32,387],[8.35,362],[8.42,381],[8.48,384],[8.56,390],[8.63,394],[8.68,394],[8.76,410],[8.8,416],[8.83,397],[8.89,410],[8.94,390],[8.99,410],[9.05,390],[9.1,375],[9.17,365],[9.22,384],[9.27,390],[9.31,403],[9.36,394],[9.41,378],[9.46,384],[9.53,346],[9.58,340],[9.62,359],[9.69,349],[9.75,343],[9.82,340],[9.88,324],[9.95,327],[10.01,330],[10.08,340],[10.14,343],[10.21,340],[10.27,352],[10.34,346],[10.4,340],[10.47,359],[10.53,365],[10.58,352],[10.63,371],[10.71,378],[10.78,387],[10.86,384],[10.96,381],[11.04,378],[11.09,371],[11.15,356],[11.19,410],[11.27,413],[11.32,397],[11.38,387],[11.46,368],[11.54,381],[11.61,378],[11.68,390],[11.74,381],[11.81,390],[11.86,365],[11.92,371],[12.0,375],[12.07,368],[12.15,365],[12.21,371],[12.25,422],[12.28,454],[12.32,492],[12.36,460],[12.41,464],[12.46,454],[12.52,448],[12.59,444],[12.65,467],[12.7,448],[12.77,435],[12.83,422],[12.91,416],[13.0,425]];

// ---- layout ----
const W = 1177, H = 1680;
const left = 98, right = 1120, panelH = 263;
const tops = [10, 285, 560, 835, 1109, 1384];
const colors = ["#0000ff", "#000000", "#ff00ff"];
const tickFont = "'Liberation Sans', Arial, Helvetica, sans-serif";
const titleFont = "'Noto Sans', 'Open Sans', sans-serif";

const svg = d3.select("#chart").append("svg")
    .attr("width", W).attr("height", H)
    .style("font-family", tickFont);

const x = d3.scaleLinear().domain([3, 13]).range([left, right]);

const protonSeries = [[staA, stbA, sohoA], [staB, stbB, sohoB], [staC, stbC, sohoC], [staD, stbD, sohoD]];

const panels = protonSeries.map((s, i) => ({
    series: s,
    y: d3.scaleLog().domain([1e-4, Math.pow(10, 2.7)]),
    val: v => Math.pow(10, v),
    major: logTicks, fmt: (d, k) => logTickLabels[k], minor: null, pad: 8,
    title: energyLabels[i], bg: [bgSta[i], bgStb[i]],
    ylabel: "Intensity", ylx: 23, sohoWidth: 1.5
}));
panels.push({
    series: [staE, stbE, sohoE], y: d3.scaleLinear().domain([0, 20]), val: v => v,
    major: bTicks, fmt: d3.format("d"), minor: d3.range(0, 21, 1).filter(v => v % 5), pad: 2,
    ylabel: "|B|(nT)", ylx: 67, sohoWidth: 1.8
});
panels.push({
    series: [staF, stbF, sohoF], y: d3.scaleLinear().domain([200, 700]), val: v => v,
    major: vTicks, fmt: d3.format("d"), minor: d3.range(200, 701, 10).filter(v => v % 100), pad: 6,
    ylabel: "Vsw", ylx: 59, sohoWidth: 1.8
});

const styleAxis = g => {
    g.select(".domain").remove();
    g.attr("font-family", tickFont).attr("font-size", 13.5);
    g.selectAll(".tick line").attr("stroke", "#000").attr("stroke-width", 1.6);
    g.selectAll(".tick text").attr("fill", "#000");
};

panels.forEach((p, i) => {
    const top = tops[i], bottom = top + panelH;
    const y = p.y.range([bottom, top]);
    const [dmin, dmax] = y.domain();
    const g = svg.append("g");

    g.append("clipPath").attr("id", "clip" + i).append("rect")
        .attr("x", left).attr("y", top).attr("width", right - left).attr("height", panelH);

    const plot = g.append("g").attr("clip-path", `url(#clip${i})`);
    const line = d3.line()
        .defined(d => d[1] != null)
        .x(d => x(d[0]))
        .y(d => y(p.val(d[1])));

    // background dashes
    if (p.bg) {
        p.bg.forEach((b, k) => {
            plot.append("line")
                .attr("x1", x(bgDays[0])).attr("x2", x(bgDays[1]))
                .attr("y1", y(p.val(b))).attr("y2", y(p.val(b)))
                .attr("stroke", colors[k]).attr("stroke-width", 1.5)
                .attr("stroke-dasharray", "4,2.5");
        });
    }

    // draw SOHO first, then STB, then STA on top
    [2, 1, 0].forEach(k => {
        plot.append("path").datum(p.series[k])
            .attr("fill", "none")
            .attr("stroke", colors[k])
            .attr("stroke-width", k === 2 ? p.sohoWidth : 1.5)
            .attr("stroke-linejoin", "round")
            .attr("d", line);
    });

    // axes
    g.append("g").attr("transform", `translate(${left},0)`)
        .call(d3.axisLeft(y).tickValues(p.major).tickFormat(p.fmt).tickSize(-20).tickPadding(p.pad))
        .call(styleAxis)
        // keep the end labels inside the panel height, as in the original plot
        .call(a => a.selectAll(".tick text")
            .attr("transform", d => d === dmin ? "translate(0,-5)" : d === dmax ? "translate(0,3)" : null));
    g.append("g").attr("transform", `translate(${right},0)`)
        .call(d3.axisRight(y).tickValues(p.major).tickFormat("").tickSize(-20))
        .call(styleAxis);
    if (p.minor) {
        g.append("g").attr("transform", `translate(${left},0)`)
            .call(d3.axisLeft(y).tickValues(p.minor).tickFormat("").tickSize(-10))
            .call(styleAxis);
        g.append("g").attr("transform", `translate(${right},0)`)
            .call(d3.axisRight(y).tickValues(p.minor).tickFormat("").tickSize(-10))
            .call(styleAxis);
    }
    g.append("g").attr("transform", `translate(0,${top})`)
        .call(d3.axisTop(x).tickValues(dayTicks).tickFormat("").tickSize(-5))
        .call(styleAxis);
    g.append("g").attr("transform", `translate(0,${bottom})`)
        .call(d3.axisBottom(x).tickValues(dayTicks).tickSize(-5).tickPadding(8)
            .tickFormat(d => i === panels.length - 1 ? (dayLabels[d] || "") : ""))
        .call(styleAxis)
        .call(a => a.attr("font-size", 14));

    // frame
    g.append("rect")
        .attr("x", left).attr("y", top).attr("width", right - left).attr("height", panelH)
        .attr("fill", "none").attr("stroke", "#000").attr("stroke-width", 1.6);

    // panel letter and title
    g.append("text").attr("x", left + 27).attr("y", top + 26)
        .attr("font-family", titleFont).attr("font-size", 18).text(panelLetters[i]);
    if (p.title) {
        g.append("text").attr("x", 1090).attr("y", top + 32)
            .attr("text-anchor", "end")
            .attr("font-family", titleFont).attr("font-size", 28).text(p.title);
    }

    // spacecraft labels on the right
    craft.forEach((c, k) => {
        g.append("text").attr("x", 1128).attr("y", top + 44 + k * 88)
            .attr("font-size", 13.5).attr("fill", colors[k]).text(c);
    });

    // y-axis title
    const yt = g.append("text")
        .attr("transform", `translate(${p.ylx},${top + panelH / 2}) rotate(-90)`)
        .attr("text-anchor", "middle").attr("font-size", 13.5);
    if (p.ylabel === "Vsw") {
        yt.append("tspan").text("Vsw(km s");
        yt.append("tspan").attr("font-size", 9).attr("dy", -5).text("-1");
        yt.append("tspan").attr("dy", 5).text(")");
    } else {
        yt.text(p.ylabel);
    }
});

// date caption under the last panel
svg.append("text").attr("x", 14).attr("y", 1663).attr("font-size", 13).text("Date");
svg.append("text").attr("x", 14).attr("y", 1677).attr("font-size", 13).text("2011 Nov");
</script>
</body>
</html>
